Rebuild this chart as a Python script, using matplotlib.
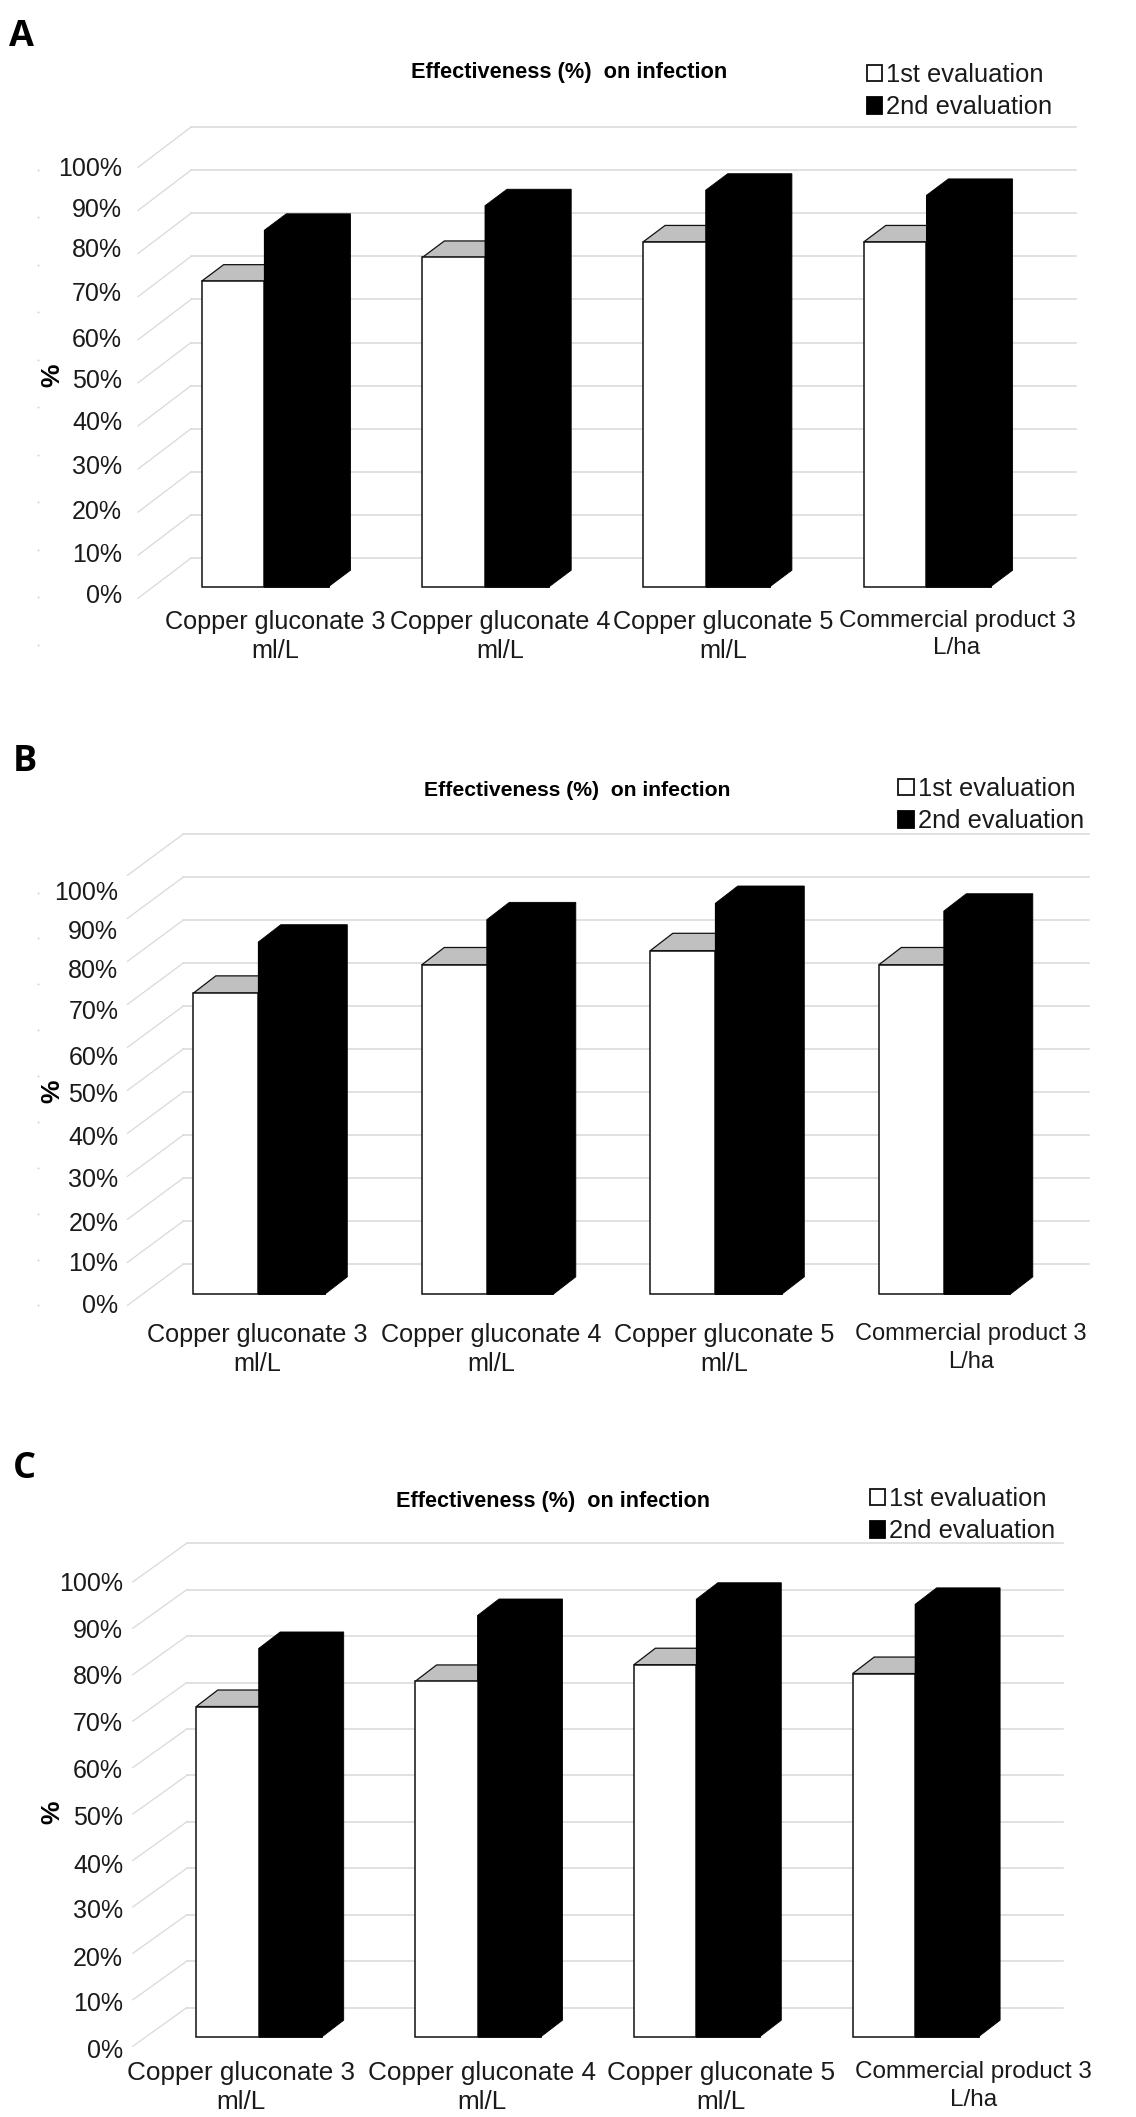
import numpy as np
import matplotlib
matplotlib.use('Agg')
import matplotlib.pyplot as plt
from matplotlib.patches import Polygon, Patch

plt.rcParams['font.family'] = ['Liberation Sans', 'DejaVu Sans']

W, H = 1136, 2117

# values
categories = ['Copper gluconate 3\nml/L', 'Copper gluconate 4\nml/L',
              'Copper gluconate 5\nml/L', 'Commercial product 3\nL/ha']
pct_labels = ['0%', '10%', '20%', '30%', '40%', '50%', '60%', '70%', '80%', '90%', '100%']
series_names = ['1st evaluation', '2nd evaluation']
title = 'Effectiveness (%)  on infection'

first_a = [70.9, 76.4, 80.0, 80.0]
second_a = [82.7, 88.4, 92.0, 90.8]
first_b = [70.0, 76.6, 79.9, 76.6]
second_b = [81.9, 87.1, 90.9, 89.1]
first_c = [71.1, 76.5, 80.1, 78.2]
second_c = [83.6, 90.7, 94.2, 93.1]

# where the % labels sit, they are not evenly spaced in the picture
ticks_a = [-1.5, 8.05, 17.9, 28.3, 38.5, 48.4, 57.8, 68.5, 78.8, 88.0, 97.4]
ticks_b = [-2.1, 7.5, 16.8, 27.1, 36.9, 46.8, 55.6, 66.1, 75.8, 84.9, 94.0]
ticks_c = [-2.5, 7.5, 17.3, 27.6, 37.4, 47.6, 57.7, 67.8, 78.0, 88.0, 98.1]

# layout of each panel, in pixels of the full image
panels = [
    dict(name='A', first=first_a, second=second_a, ticks=ticks_a, base=586.7, step=43.1,
         front=138, back=191, right=1075.5, c0=201.7, sp=220.7, w1=62.6, w2=64.2,
         dx=22, dy=3.82, back0=6.64, front0=-2.7,
         lab=[275, 500.5, 723.5, 957], lab_pad=17.0, size=18.2, comm_size=17.5,
         tick_pad=11.5, dots=(-13.5, 96.7, 11),
         title_xy=(569.5, 72.4), title_size=15.7, pct_xy=(52, 375),
         letter_xy=(9, 45.5), leg_xy=(866.8, 63)),
    dict(name='B', first=first_b, second=second_b, ticks=ticks_b, base=1294.2, step=43.0,
         front=127.4, back=183, right=1088.5, c0=193.3, sp=228.5, w1=65, w2=66.5,
         dx=22.5, dy=4.03, back0=6.96, front0=-2.6,
         lab=[257, 491, 724.4, 971], lab_pad=20.8, size=18.2, comm_size=17.0,
         tick_pad=6.5, dots=(-2.6, 93.4, 10),
         title_xy=(577, 790), title_size=15.2, pct_xy=(52, 1091.6),
         letter_xy=(13, 771), leg_xy=(898.4, 777)),
    dict(name='C', first=first_c, second=second_c, ticks=ticks_c, base=2036.7, step=46.44,
         front=132.8, back=186.8, right=1062.5, c0=196.3, sp=218.8, w1=62.4, w2=63.5,
         dx=21.5, dy=3.55, back0=6.26, front0=-2.05,
         lab=[241, 481.6, 720.7, 973.6], lab_pad=17.8, size=18.8, comm_size=17.5,
         tick_pad=7, dots=None,
         title_xy=(553.5, 1502), title_size=15.6, pct_xy=(52, 1812),
         letter_xy=(13, 1478), leg_xy=(869.7, 1487)),
]

GRID = '#d9d9d9'
TEXT = '#1a1a1a'
Y_BOTTOM = -5  # room below the bar base so the 0% tick stays in view

fig = plt.figure(figsize=(W / 100, H / 100), dpi=100)


def draw_panel(p):
    unit = p['step'] / 10
    top = p['base'] - 100 * unit
    bottom = p['base'] - Y_BOTTOM * unit
    ax = fig.add_axes([p['front'] / W, 1 - bottom / H,
                       (p['right'] - p['front']) / W, (bottom - top) / H])
    for s in ax.spines.values():
        s.set_visible(False)

    # back wall gridlines and the slanted lines on the side wall
    xf = (p['front'] - p['c0']) / p['sp']
    xb = (p['back'] - p['c0']) / p['sp']
    xr = (p['right'] - p['c0']) / p['sp']
    for v in range(0, 101, 10):
        ax.plot([xb, xr], [v + p['back0']] * 2, color=GRID, lw=1.1, clip_on=False, zorder=1)
        ax.plot([xf, xb], [v + p['front0'], v + p['back0']], color=GRID, lw=0.9,
                clip_on=False, zorder=1)

    w1 = p['w1'] / p['sp']
    w2 = p['w2'] / p['sp']
    dx = p['dx'] / p['sp']
    dy = p['dy']
    xs = np.arange(len(categories))

    for x, v1, v2 in zip(xs, p['first'], p['second']):
        # grey top of the white bar, black side of the dark bar
        ax.add_patch(Polygon([(x, v1), (x + dx, v1 + dy), (x + w1 + dx, v1 + dy), (x + w1, v1)],
                             facecolor='#c0c0c0', edgecolor='#111111', lw=0.9, zorder=2,
                             clip_on=False))
        ax.add_patch(Polygon([(x + w1, v2), (x + w1 + dx, v2 + dy), (x + w1 + w2 + dx, v2 + dy),
                              (x + w1 + w2 + dx, dy), (x + w1 + w2, 0), (x + w1, 0)],
                             facecolor='black', edgecolor='black', lw=0.6, zorder=3,
                             clip_on=False))
    ax.bar(xs, p['first'], w1, align='edge', color='white', edgecolor='#111111',
           linewidth=1.1, zorder=4, clip_on=False)
    ax.bar(xs + w1, p['second'], w2, align='edge', color='black', edgecolor='black',
           linewidth=0.6, zorder=4, clip_on=False)

    # tick labels
    ax.set_yticks(p['ticks'], pct_labels, fontsize=18, color=TEXT)
    ax.set_xticks([(c - p['c0']) / p['sp'] for c in p['lab']], categories,
                  fontsize=p['size'], color=TEXT, linespacing=1.25)
    last = ax.get_xticklabels()[-1]
    last.set_fontsize(p['comm_size'])
    last.set_linespacing(1.25 * p['size'] / p['comm_size'])
    ax.tick_params(axis='y', length=0, pad=p['tick_pad'])
    # pad counts from the axes bottom, which sits below the bar base
    ax.tick_params(axis='x', length=0, pad=p['lab_pad'] + Y_BOTTOM * unit * 0.72)

    # faint leftover marks at the far left
    if p['dots']:
        lo, hi, n = p['dots']
        ax.plot([(38 - p['c0']) / p['sp']] * n, np.linspace(lo, hi, n), ls='none', marker='s',
                ms=1.2, color='#cfcfcf', mew=0, clip_on=False)

    # set_xticks/set_yticks widen the view, so the limits come last
    ax.set_xlim(xf, xr)
    ax.set_ylim(Y_BOTTOM, 100)

    fig.text(p['title_xy'][0] / W, 1 - p['title_xy'][1] / H, title, fontsize=p['title_size'],
             fontweight='bold', ha='center', va='center', color='black')
    fig.text(p['pct_xy'][0] / W, 1 - p['pct_xy'][1] / H, '%', fontsize=19, fontweight='bold',
             rotation=90, ha='center', va='center', color='black')
    fig.text(p['letter_xy'][0] / W, 1 - p['letter_xy'][1] / H, p['name'], fontsize=26,
             fontweight='bold', family='Open Sans', ha='left', va='baseline', color='black')

    handles = [Patch(facecolor='white', edgecolor='#111111', lw=1.3),
               Patch(facecolor='black', edgecolor='black', lw=1.3)]
    ax.legend(handles, series_names, loc='upper left',
              bbox_to_anchor=(p['leg_xy'][0] / W, 1 - p['leg_xy'][1] / H),
              bbox_transform=fig.transFigure, frameon=False, fontsize=18.4,
              borderpad=0, borderaxespad=0, handlelength=0.6, handleheight=0.6,
              handletextpad=0.15, labelspacing=0.33, labelcolor=TEXT)


for p in panels:
    draw_panel(p)

fig.savefig('out.png', dpi=100, facecolor='white')
